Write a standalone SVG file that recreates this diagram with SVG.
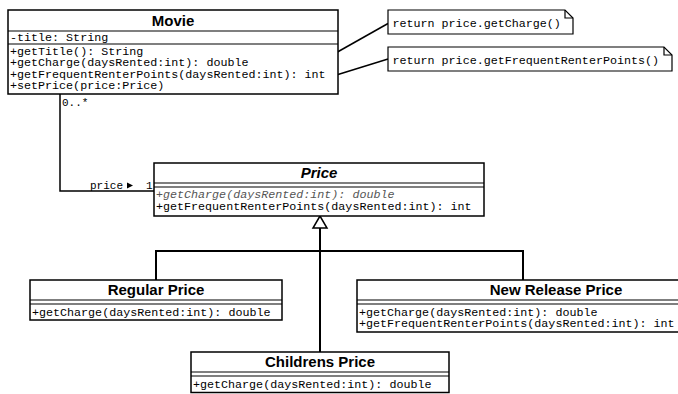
<svg xmlns="http://www.w3.org/2000/svg" width="678" height="394" viewBox="0 0 678 394">
  <style>
    .box { fill: #fff; stroke: #000; stroke-width: 1.5; }
    .sep { stroke: #000; stroke-width: 1.2; fill: none; }
    .title { font-family: "Liberation Sans", Arial, sans-serif; font-weight: bold; font-size: 15px; text-anchor: middle; fill: #000; }
    .mono { font-family: "Liberation Mono", "Courier New", monospace; font-size: 11.7px; fill: #000; }
    .abstract { font-style: italic; fill: #555; }
    .small { font-family: "Liberation Mono", "Courier New", monospace; font-size: 11px; fill: #000; }
    .line { stroke: #000; stroke-width: 1.5; fill: none; }
    .gen { stroke: #000; stroke-width: 2; fill: none; }
    .note { fill: #fff; stroke: #000; stroke-width: 1.2; }
  </style>

  <!-- connectors -->
  <g id="connectors">
    <!-- Movie to Price association -->
    <polyline class="line" points="60,94 60,191 154,191"/>
    <text class="small" x="62" y="106">0..*</text>
    <text class="small" x="90" y="189">price</text>
    <polygon points="127,182.5 133,185.5 127,188.5" fill="#000"/>
    <text class="small" x="146" y="189">1</text>
    <!-- notes -->
    <line class="line" x1="321.5" y1="61" x2="388" y2="23.5"/>
    <line class="line" x1="338" y1="74.5" x2="388" y2="59"/>
    <!-- generalization tree -->
    <polyline class="gen" points="156,280 156,251 523,251 523,280"/>
    <line class="gen" x1="320" y1="228" x2="320" y2="352"/>
    <polygon points="320,216 313,228 327,228" fill="#fff" stroke="#000" stroke-width="1.5"/>
  </g>

  <g id="movie">
    <rect class="box" x="8" y="10" width="330" height="84"/>
    <line class="sep" x1="8" y1="31" x2="338" y2="31"/>
    <line class="sep" x1="8" y1="44" x2="338" y2="44" stroke-width="2"/>
    <text class="title" x="173" y="26">Movie</text>
    <text class="mono" x="10" y="41">-title: String</text>
    <text class="mono" x="10" y="54.5">+getTitle(): String</text>
    <text class="mono" x="10" y="66">+getCharge(daysRented:int): double</text>
    <text class="mono" x="10" y="77.5">+getFrequentRenterPoints(daysRented:int): int</text>
    <text class="mono" x="10" y="89">+setPrice(price:Price)</text>
  </g>

  <g id="note-charge">
    <path class="note" d="M388,10 H565 L573,18 V34 H388 Z"/>
    <polyline class="sep" points="565,10 565,18 573,18"/>
    <text class="mono" x="392.5" y="26.5">return price.getCharge()</text>
  </g>

  <g id="note-points">
    <path class="note" d="M388,47 H664 L672,55 V71 H388 Z"/>
    <polyline class="sep" points="664,47 664,55 672,55"/>
    <text class="mono" x="392.5" y="63.5">return price.getFrequentRenterPoints()</text>
  </g>

  <g id="price">
    <rect class="box" x="154" y="163" width="330" height="53"/>
    <line class="sep" x1="154" y1="183" x2="484" y2="183"/>
    <line class="sep" x1="154" y1="187" x2="484" y2="187"/>
    <text class="title" x="319" y="178" font-style="italic">Price</text>
    <text class="mono abstract" x="156" y="198">+getCharge(daysRented:int): double</text>
    <text class="mono" x="156" y="209.5">+getFrequentRenterPoints(daysRented:int): int</text>
  </g>

  <g id="regular-price">
    <rect class="box" x="30" y="280" width="252" height="40"/>
    <line class="sep" x1="30" y1="300" x2="282" y2="300"/>
    <line class="sep" x1="30" y1="304" x2="282" y2="304"/>
    <text class="title" x="156" y="295">Regular Price</text>
    <text class="mono" x="32" y="315.5">+getCharge(daysRented:int): double</text>
  </g>

  <g id="new-release-price">
    <rect class="box" x="357" y="280" width="330" height="52"/>
    <line class="sep" x1="357" y1="300" x2="687" y2="300"/>
    <line class="sep" x1="357" y1="304" x2="687" y2="304"/>
    <text class="title" x="556" y="295">New Release Price</text>
    <text class="mono" x="359" y="315.5">+getCharge(daysRented:int): double</text>
    <text class="mono" x="359" y="327">+getFrequentRenterPoints(daysRented:int): int</text>
  </g>

  <g id="childrens-price">
    <rect class="box" x="191" y="352" width="258" height="40.5"/>
    <line class="sep" x1="191" y1="372" x2="449" y2="372"/>
    <line class="sep" x1="191" y1="376" x2="449" y2="376"/>
    <text class="title" x="320" y="367">Childrens Price</text>
    <text class="mono" x="193" y="387.5">+getCharge(daysRented:int): double</text>
  </g>
</svg>
